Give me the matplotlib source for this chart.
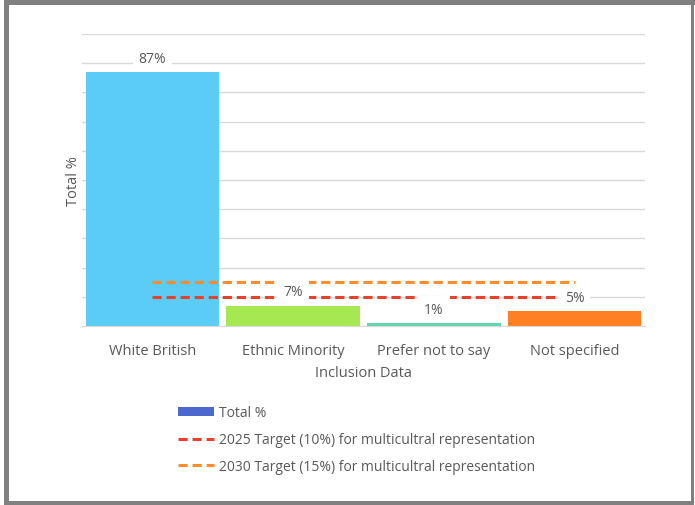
import matplotlib.pyplot as plt
from matplotlib.lines import Line2D
from matplotlib.patches import Patch, Rectangle

plt.rcParams['font.family'] = ['Open Sans', 'DejaVu Sans']
plt.rcParams['font.size'] = 10

# data
categories = ['White British', 'Ethnic Minority', 'Prefer not to say', 'Not specified']
totals = [87, 7, 1, 5]
bar_colors = ['#5BCCF5', '#A5E852', '#5ED6AE', '#FF8022']
target_2025 = [10, 10, 10, 10]
target_2030 = [15, 15, 15, 15]
labels = ['87%', '7%', '1%', '5%']

txt = '#595959'
W, H = 695, 506

fig = plt.figure(figsize=(6.95, 5.06), dpi=100)
ax = fig.add_axes([82 / W, 1 - 327 / H, 563 / W, 292 / H])

x = list(range(len(categories)))
ax.bar(x, totals, width=0.95, color=bar_colors, zorder=2)
ax.plot(x, target_2025, color='#E8402A', linestyle=(0, (3, 1.6)), linewidth=2.2, zorder=3)
ax.plot(x, target_2030, color='#FF8C28', linestyle=(0, (3, 1.6)), linewidth=2.2, zorder=3)

# white label boxes knock out grid and dashed lines, but must stay clear of the bars
for xi, v, lab in zip(x, totals, labels):
    ax.text(xi, v + 2.2, lab, ha='center', va='bottom', color=txt, fontsize=10,
            bbox=dict(facecolor='white', edgecolor='none', pad=4.3), zorder=4)

ax.set_xlim(-0.5, 3.5)
ax.set_ylim(0, 100)
ax.set_yticks(range(0, 101, 10))
ax.set_yticklabels([])
ax.tick_params(axis='y', length=0)
ax.tick_params(axis='x', length=0, colors=txt, labelsize=10.5, pad=12)
ax.set_xticks(x)
ax.set_xticklabels(categories)
ax.grid(axis='y', color='#D9D9D9', linewidth=1, zorder=0)
ax.set_axisbelow(True)
for s in ['top', 'right', 'left']:
    ax.spines[s].set_visible(False)
ax.spines['bottom'].set_color('#D9D9D9')
ax.set_xlabel('Inclusion Data', color=txt, fontsize=10.5, labelpad=5)
ax.set_ylabel('Total %', color=txt, fontsize=10.5, labelpad=-3)

handles = [
    Patch(facecolor='#4A68CE', edgecolor='none'),
    Line2D([0], [0], color='#E8402A', linestyle=(0, (3, 1.6)), linewidth=2.2),
    Line2D([0], [0], color='#FF8C28', linestyle=(0, (3, 1.6)), linewidth=2.2),
]
names = ['Total %', '2025 Target (10%) for multicultral representation',
         '2030 Target (15%) for multicultral representation']
fig.legend(handles, names, loc='upper left', bbox_to_anchor=(165 / W, 1 - 394 / H),
           frameon=False, fontsize=10, labelcolor=txt, handlelength=2.6,
           handleheight=0.6, handletextpad=0.4, labelspacing=0.85)

# outer grey frame (pixel boxes: left, top, right, bottom)
frame = [(4, 0, 5, H), (4, 0, W - 4, 6), (691, 0, 3, H - 4), (4, H - 4, W - 5, 4)]
for fx, fy, fw, fh in frame:
    fig.patches.append(Rectangle((fx / W, 1 - (fy + fh) / H), fw / W, fh / H,
                                 transform=fig.transFigure, facecolor='#808080',
                                 edgecolor='none', zorder=10))

fig.savefig('out.png', dpi=100)
